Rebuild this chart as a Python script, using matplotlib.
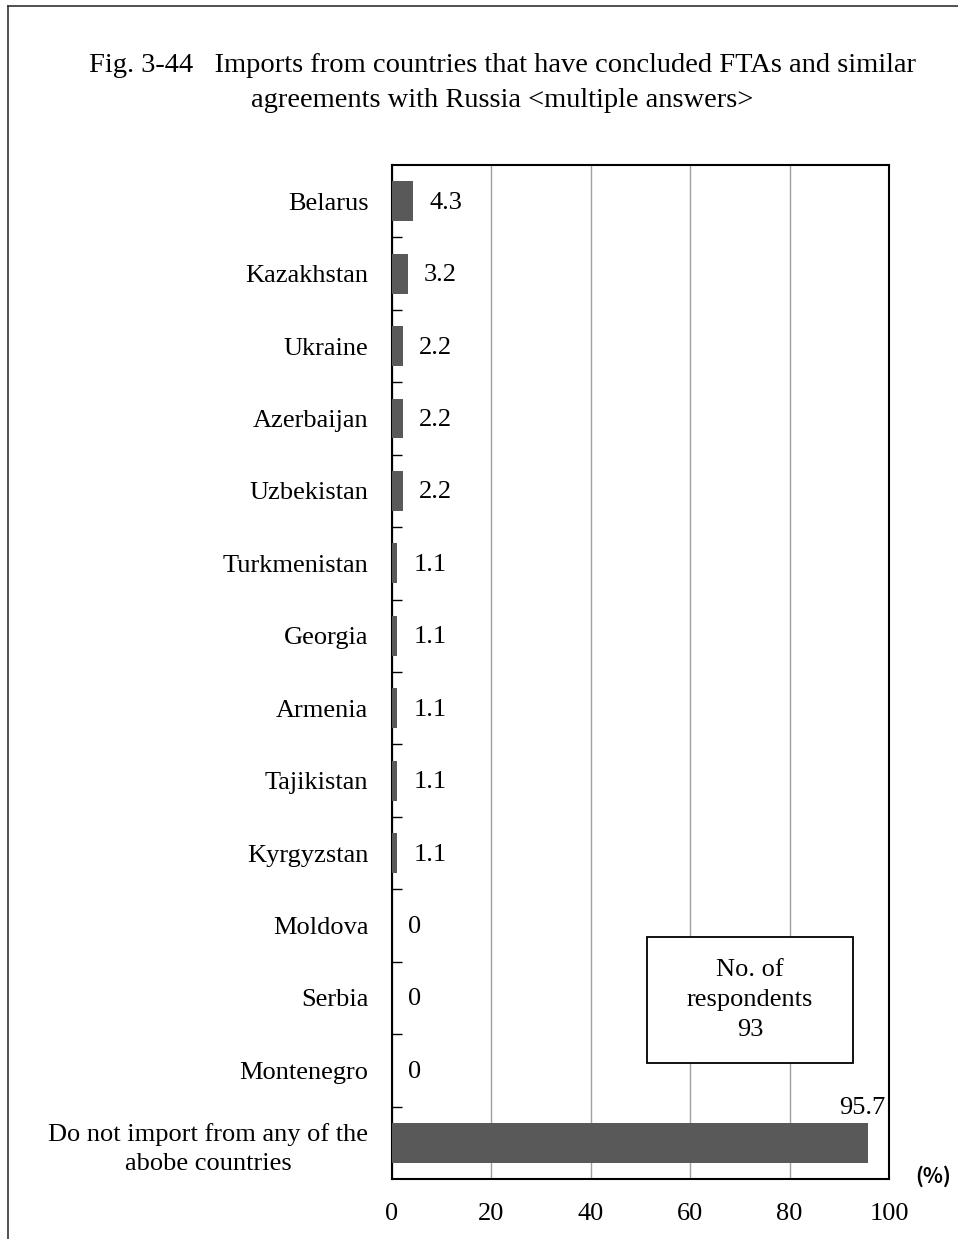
import numpy as np
import matplotlib
matplotlib.use('Agg')
import matplotlib.pyplot as plt
from matplotlib.lines import Line2D
from matplotlib.patches import Rectangle

plt.rcParams['font.family'] = ['Liberation Serif', 'DejaVu Serif']

# Data (top to bottom as shown)
countries = ['Belarus', 'Kazakhstan', 'Ukraine', 'Azerbaijan', 'Uzbekistan',
             'Turkmenistan', 'Georgia', 'Armenia', 'Tajikistan', 'Kyrgyzstan',
             'Moldova', 'Serbia', 'Montenegro',
             'Do not import from any of the\nabobe countries']
shares = [4.3, 3.2, 2.2, 2.2, 2.2, 1.1, 1.1, 1.1, 1.1, 1.1, 0, 0, 0, 95.7]
value_labels = ['4.3', '3.2', '2.2', '2.2', '2.2', '1.1', '1.1', '1.1', '1.1',
                '1.1', '0', '0', '0', '95.7']
x_ticks = [0, 20, 40, 60, 80, 100]

W, H = 958, 1239
fs = 19
fig = plt.figure(figsize=(W / 100, H / 100), dpi=100)
ax = fig.add_axes([392 / W, 1 - 1179 / H, 497 / W, 1014 / H])

n = len(countries)
ypos = np.arange(n)[::-1]
ax.barh(ypos, shares, height=0.55, color='#595959', zorder=3)

ax.set_xlim(0, 100)
ax.set_ylim(-0.5, n - 0.5)
ax.set_xticks(x_ticks)
ax.set_xticklabels([str(t) for t in x_ticks], fontsize=fs)
ax.set_yticks(ypos)
ax.set_yticklabels(countries, fontsize=fs, multialignment='center', linespacing=1.45)
ax.set_yticks(np.arange(n - 1) + 0.5, minor=True)
ax.tick_params(axis='y', which='major', length=0, pad=17)
ax.tick_params(axis='y', which='minor', length=7, direction='in', width=1)
ax.tick_params(axis='x', which='major', length=0, pad=17)
ax.xaxis.grid(True, color='#a0a0a0', linewidth=1, zorder=0)
for s in ax.spines.values():
    s.set_linewidth(1.5)
    s.set_color('black')

# value labels
for y, v, lab in zip(ypos, shares, value_labels):
    if v > 50:
        ax.text(v - 1.0, y + 0.33, lab, ha='center', va='bottom', fontsize=fs)
    else:
        ax.text(v + 3.2, y - 0.02, lab, ha='left', va='center', fontsize=fs)

# respondents box
ax.add_patch(Rectangle((0.513, 0.114), 0.415, 0.125, transform=ax.transAxes,
                       facecolor='white', edgecolor='black', linewidth=1.3, zorder=4))
ax.text(0.72, 0.1765, 'No. of\nrespondents\n93', transform=ax.transAxes,
        ha='center', va='center', fontsize=fs, linespacing=1.45, zorder=5)

# unit
fig.text(951 / W, 1 - 1176 / H, '(%)', ha='right', va='center', fontsize=15,
         fontweight='bold', family=['Noto Sans CJK JP', 'DejaVu Sans'])

# title
fig.text(502 / W, 1 - 83 / H,
         'Fig. 3-44   Imports from countries that have concluded FTAs and similar\n'
         'agreements with Russia <multiple answers>',
         ha='center', va='center', fontsize=20.5, linespacing=1.5)

# outer frame (left and top edges visible)
fig.add_artist(Line2D([8 / W, 8 / W], [0, 1 - 6 / H], transform=fig.transFigure,
                      color='#333333', linewidth=1.2))
fig.add_artist(Line2D([8 / W, 1], [1 - 6 / H, 1 - 6 / H], transform=fig.transFigure,
                      color='#333333', linewidth=1.2))

fig.savefig('out.png', dpi=100)
